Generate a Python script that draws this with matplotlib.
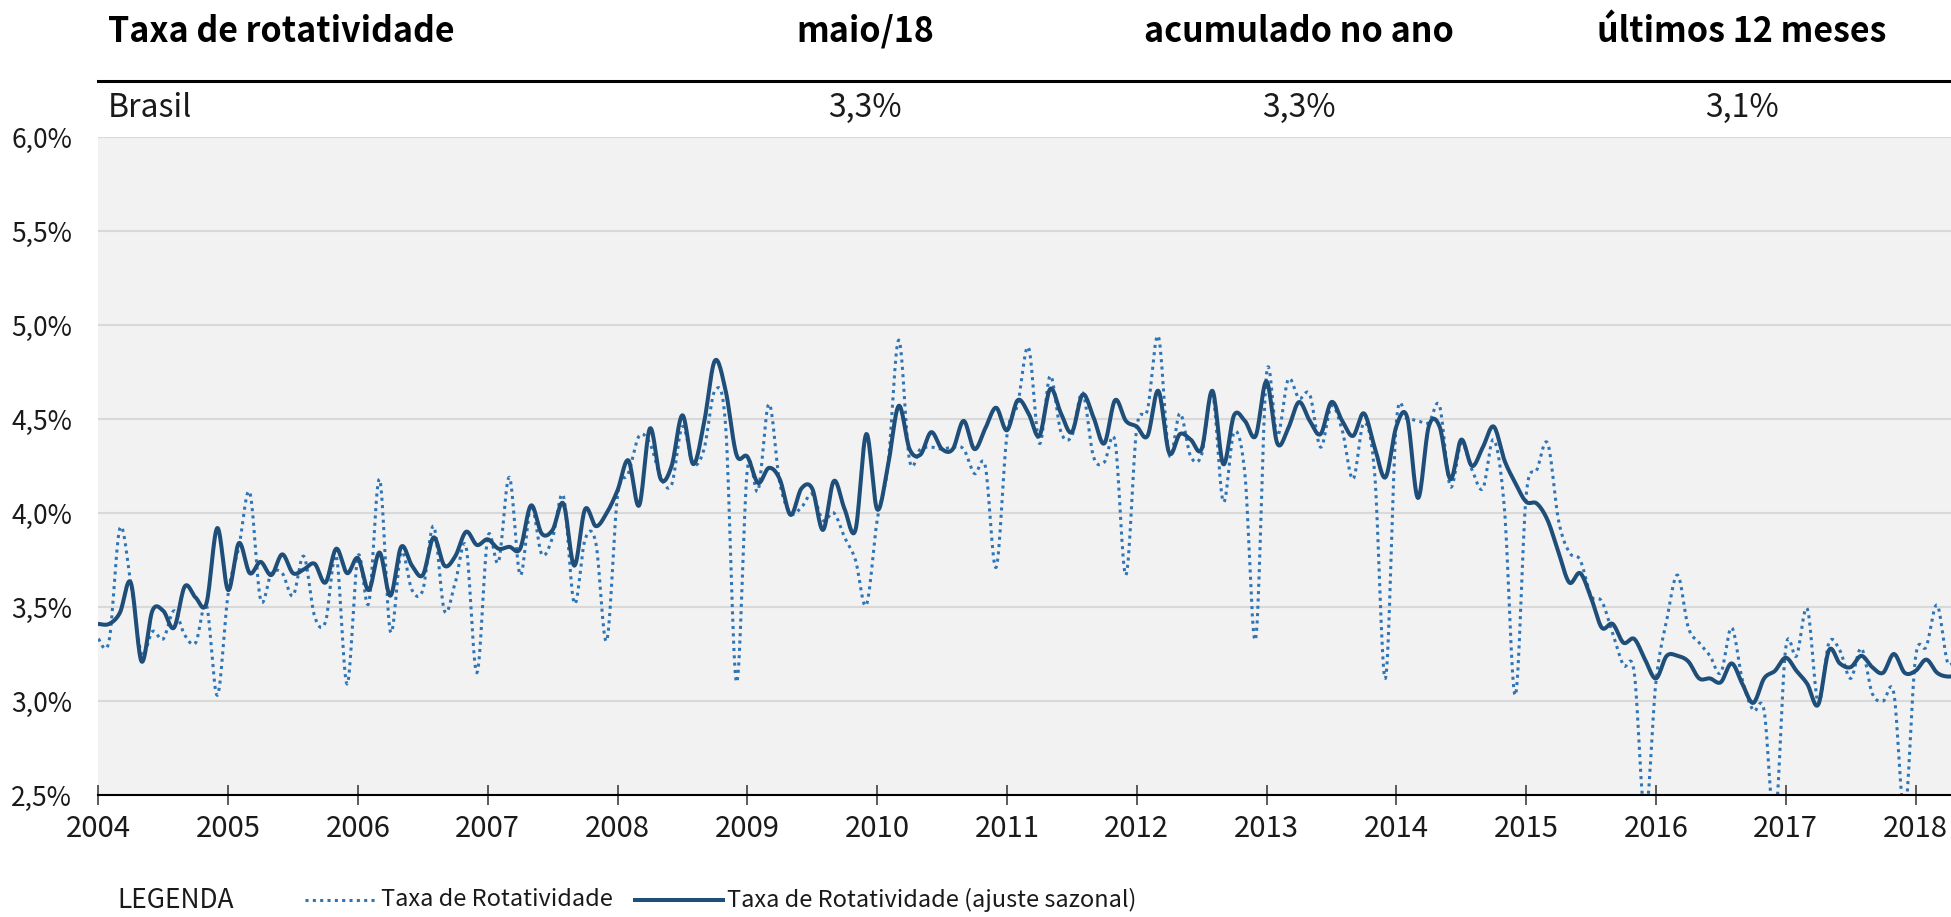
import matplotlib
matplotlib.use("Agg")
import matplotlib.pyplot as plt
import numpy as np
from matplotlib.lines import Line2D
from matplotlib.ticker import FuncFormatter

plt.rcParams['font.family'] = ['Noto Sans CJK JP', 'DejaVu Sans']

# --- Dados (mensal, jan/2004 a mai/2018, em %) ---
ano_inicio = 2004
taxa = [
    3.33, 3.32, 3.92, 3.63, 3.25, 3.37, 3.33, 3.48, 3.35, 3.31, 3.51, 3.03,
    3.57, 3.82, 4.11, 3.54, 3.68, 3.68, 3.56, 3.77, 3.45, 3.42, 3.77, 3.09,
    3.77, 3.52, 4.18, 3.37, 3.79, 3.59, 3.59, 3.93, 3.48, 3.63, 3.82, 3.15,
    3.87, 3.74, 4.19, 3.67, 4.04, 3.78, 3.87, 4.09, 3.52, 3.86, 3.84, 3.32,
    4.09, 4.21, 4.41, 4.37, 4.19, 4.15, 4.46, 4.26, 4.34, 4.65, 4.46, 3.10,
    4.23, 4.12, 4.58, 4.16, 4.00, 4.03, 4.10, 3.96, 4.00, 3.87, 3.75, 3.51,
    3.96, 4.25, 4.92, 4.28, 4.34, 4.35, 4.34, 4.35, 4.34, 4.21, 4.25, 3.71,
    4.41, 4.58, 4.88, 4.37, 4.73, 4.43, 4.41, 4.64, 4.30, 4.27, 4.38, 3.67,
    4.45, 4.55, 4.94, 4.31, 4.53, 4.30, 4.31, 4.64, 4.06, 4.43, 4.21, 3.33,
    4.74, 4.41, 4.71, 4.61, 4.63, 4.35, 4.57, 4.44, 4.18, 4.48, 4.21, 3.12,
    4.48, 4.50, 4.49, 4.48, 4.57, 4.14, 4.37, 4.23, 4.13, 4.39, 4.02, 3.03,
    4.09, 4.23, 4.37, 3.96, 3.79, 3.75, 3.56, 3.53, 3.36, 3.19, 3.15, 2.38,
    3.10, 3.43, 3.67, 3.39, 3.31, 3.24, 3.15, 3.39, 3.11, 2.95, 2.95, 2.35,
    3.28, 3.24, 3.49, 2.99, 3.31, 3.27, 3.12, 3.28, 3.04, 3.00, 3.04, 2.40,
    3.23, 3.29, 3.51, 3.20, 3.28,
]
taxa_ajustada = [
    3.41, 3.41, 3.47, 3.63, 3.21, 3.48, 3.48, 3.39, 3.61, 3.55, 3.52, 3.92,
    3.59, 3.84, 3.68, 3.74, 3.67, 3.78, 3.68, 3.70, 3.73, 3.63, 3.81, 3.68,
    3.76, 3.59, 3.79, 3.56, 3.82, 3.72, 3.67, 3.87, 3.72, 3.77, 3.90, 3.83,
    3.86, 3.81, 3.82, 3.81, 4.04, 3.89, 3.91, 4.05, 3.72, 4.02, 3.93, 4.00,
    4.12, 4.28, 4.04, 4.45, 4.18, 4.25, 4.52, 4.26, 4.48, 4.81, 4.65, 4.31,
    4.30, 4.16, 4.24, 4.18, 3.99, 4.13, 4.13, 3.91, 4.17, 4.02, 3.91, 4.42,
    4.02, 4.25, 4.57, 4.34, 4.31, 4.43, 4.34, 4.34, 4.49, 4.34, 4.45, 4.56,
    4.44, 4.60, 4.53, 4.41, 4.66, 4.53, 4.43, 4.63, 4.51, 4.37, 4.60, 4.49,
    4.46, 4.41, 4.65, 4.32, 4.42, 4.39, 4.34, 4.65, 4.26, 4.52, 4.49, 4.41,
    4.70, 4.37, 4.45, 4.59, 4.49, 4.42, 4.59, 4.49, 4.41, 4.53, 4.35, 4.19,
    4.46, 4.51, 4.08, 4.46, 4.46, 4.18, 4.39, 4.25, 4.35, 4.46, 4.28, 4.16,
    4.06, 4.05, 3.96, 3.79, 3.63, 3.68, 3.55, 3.39, 3.41, 3.31, 3.33, 3.22,
    3.12, 3.24, 3.24, 3.21, 3.12, 3.12, 3.10, 3.20, 3.09, 2.99, 3.12, 3.16,
    3.23, 3.16, 3.09, 2.98, 3.27, 3.20, 3.18, 3.24, 3.18, 3.15, 3.25, 3.15,
    3.16, 3.22, 3.15, 3.13, 3.14,
]
anos_ticks = list(range(2004, 2019))
yticks = [2.5, 3.0, 3.5, 4.0, 4.5, 5.0, 5.5, 6.0]

cabecalho = ['Taxa de rotatividade', 'maio/18', 'acumulado no ano', 'últimos 12 meses']
linha_brasil = ['Brasil', '3,3%', '3,3%', '3,1%']
rotulos_legenda = ['Taxa de Rotatividade', 'Taxa de Rotatividade (ajuste sazonal)']

# --- Cores ---
cor_fundo = '#f2f2f2'
cor_grade = '#d9d9d9'
cor_pontilhada = '#2e75b6'
cor_solida = '#1f4e79'


def suavizar(x, y, n=16):
    """Curva suave estilo Excel (Bezier com tangentes de Catmull-Rom)."""
    x = np.asarray(x, float)
    y = np.asarray(y, float)
    t = np.linspace(0, 1, n, endpoint=False)[:, None]
    xs, ys = [], []
    for i in range(len(x) - 1):
        a = max(i - 1, 0)
        b = min(i + 2, len(x) - 1)
        p1 = np.array([x[i], y[i]])
        p2 = np.array([x[i + 1], y[i + 1]])
        c1 = p1 + (p2 - np.array([x[a], y[a]])) / 6
        c2 = p2 - (np.array([x[b], y[b]]) - p1) / 6
        pts = ((1 - t) ** 3) * p1 + 3 * ((1 - t) ** 2) * t * c1 + 3 * (1 - t) * t ** 2 * c2 + t ** 3 * p2
        xs.append(pts[:, 0])
        ys.append(pts[:, 1])
    xs.append([x[-1]])
    ys.append([y[-1]])
    return np.concatenate(xs), np.concatenate(ys)


# --- Figura ---
W, H = 1951, 917
fig = plt.figure(figsize=(W / 100, H / 100), dpi=100)

ax_esq = 98.3 / W
ax = fig.add_axes([ax_esq, 1 - 795 / H, 1 - ax_esq, (795 - 137) / H])
ax.set_facecolor(cor_fundo)

meses = ano_inicio + np.arange(len(taxa)) / 12
xs, ys = suavizar(meses, taxa)
ax.plot(xs, ys, color=cor_pontilhada, lw=2.2, linestyle=(0, (1, 1.4)))
xs, ys = suavizar(meses, taxa_ajustada)
ax.plot(xs, ys, color=cor_solida, lw=2.9, solid_capstyle='round')

ax.set_xlim(2004, 2004 + (W - 98.3) / 129.8)
ax.set_ylim(2.5, 6.0)
ax.set_xticks(anos_ticks)
ax.set_xticklabels([str(a) for a in anos_ticks])
ax.set_yticks(yticks)
ax.yaxis.set_major_formatter(FuncFormatter(lambda v, p: f'{v:.1f}%'.replace('.', ',')))

ax.tick_params(axis='x', direction='inout', length=14, width=1.2, color='#404040',
               labelsize=21, pad=7, labelcolor='#1a1a1a')
ax.tick_params(axis='y', length=0, labelsize=19, pad=19, labelcolor='#1a1a1a')

for lado in ['left', 'top', 'right']:
    ax.spines[lado].set_visible(False)
ax.spines['bottom'].set_color('black')
ax.spines['bottom'].set_linewidth(1.5)

ax.yaxis.grid(True, color=cor_grade, lw=1.5)
ax.set_axisbelow(True)

# --- Cabeçalho ---
pos_x = [108, 865, 1299, 1742]
for i, txt in enumerate(cabecalho):
    fig.text(pos_x[i] / W, 1 - 31 / H, txt, ha='left' if i == 0 else 'center',
             va='center', fontsize=24.5, fontweight='bold', color='black')
for i, txt in enumerate(linha_brasil):
    fig.text(pos_x[i] / W, 1 - 108 / H, txt, ha='left' if i == 0 else 'center',
             va='center', fontsize=23, color='#1a1a1a')
fig.add_artist(Line2D([ax_esq, 1], [1 - 81 / H] * 2, color='black', lw=2.2))

# --- Legenda ---
y_leg = 1 - 900 / H
fig.text(117 / W, y_leg, 'LEGENDA', ha='left', va='center', fontsize=19, color='#1a1a1a')
fig.add_artist(Line2D([305 / W, 376 / W], [y_leg] * 2, color=cor_pontilhada, lw=2.2,
                      linestyle=(0, (1, 1.4))))
fig.text(381 / W, y_leg, rotulos_legenda[0], ha='left', va='center', fontsize=17, color='#1a1a1a')
fig.add_artist(Line2D([635 / W, 723 / W], [y_leg] * 2, color=cor_solida, lw=2.9))
fig.text(727 / W, y_leg, rotulos_legenda[1], ha='left', va='center', fontsize=17, color='#1a1a1a')

fig.savefig('out.png', dpi=100)
